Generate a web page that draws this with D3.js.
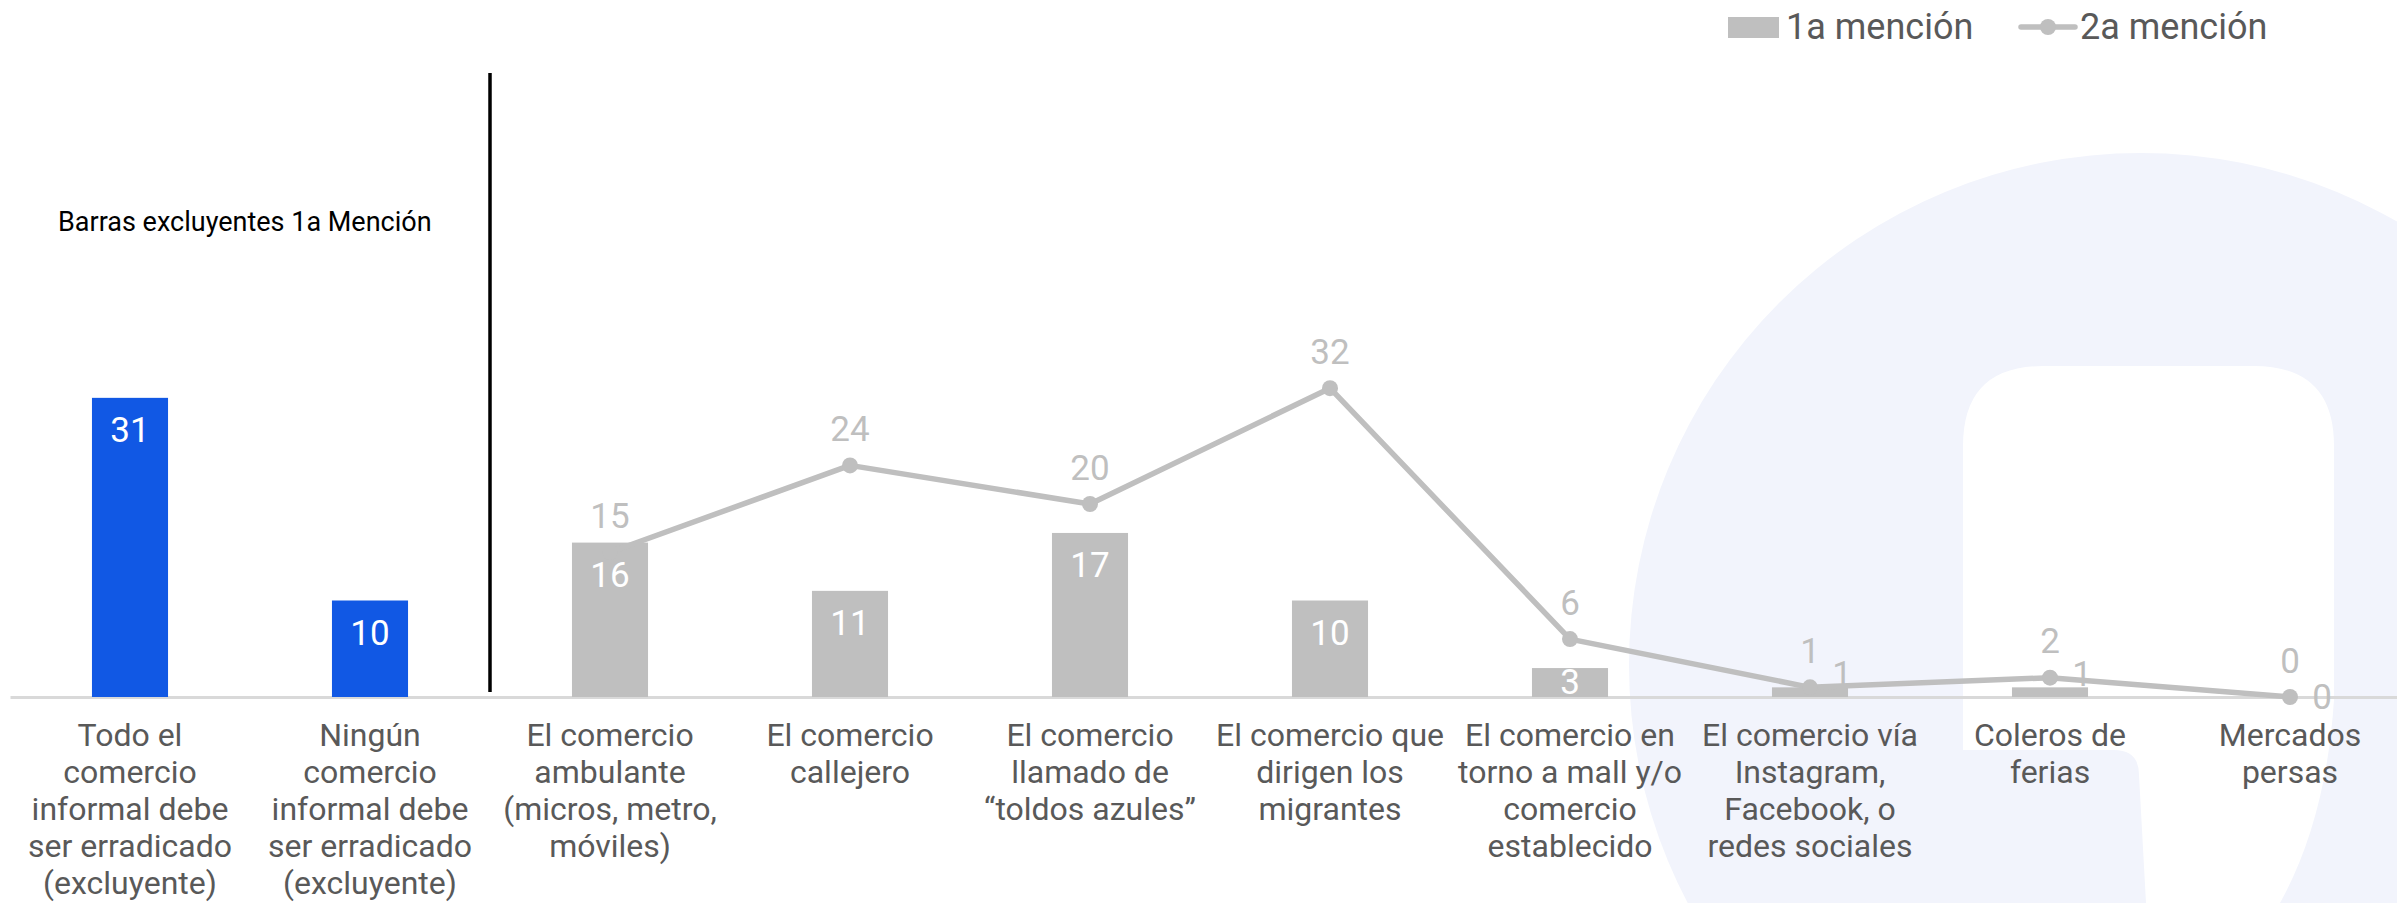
<!DOCTYPE html>
<html>
<head>
<meta charset="utf-8">
<script src="https://cdn.jsdelivr.net/npm/d3@7"></script>
<style>
  html, body { margin: 0; padding: 0; background: #fff; }
  svg { display: block; font-family: Roboto, "Noto Sans", sans-serif; }
</style>
</head>
<body>
<div id="chart"></div>
<script>
// categorias (saltos de linea como en el original)
var categories = [
  "Todo el\ncomercio\ninformal debe\nser erradicado\n(excluyente)",
  "Ningún\ncomercio\ninformal debe\nser erradicado\n(excluyente)",
  "El comercio\nambulante\n(micros, metro,\nmóviles)",
  "El comercio\ncallejero",
  "El comercio\nllamado de\n“toldos azules”",
  "El comercio que\ndirigen los\nmigrantes",
  "El comercio en\ntorno a mall y/o\ncomercio\nestablecido",
  "El comercio vía\nInstagram,\nFacebook, o\nredes sociales",
  "Coleros de\nferias",
  "Mercados\npersas"
];
// 1a mención (barras) ; las dos primeras son excluyentes
var mencion1 = [31, 10, 16, 11, 17, 10, 3, 1, 1, 0];
var excluyentes = [true, true, false, false, false, false, false, false, false, false];
// 2a mención (linea)
var mencion2 = [null, null, 15, 24, 20, 32, 6, 1, 2, 0];
var seriesNames = ["1a mención", "2a mención"];
var nota = "Barras excluyentes 1a Mención";

var W = 2397, H = 903;
var base = 697;
var gray = "#bfbfbf", blue = "#1158e4", txt = "#595959";

var svg = d3.select("#chart").append("svg").attr("width", W).attr("height", H);

// fondo: logo tenue
var bg = svg.append("g");
bg.append("circle").attr("cx", 2141).attr("cy", 665).attr("r", 512).attr("fill", "#f2f4fc");
bg.append("path")
  .attr("d", "M1963,446 Q1963,366 2043,366 L2254,366 Q2334,366 2334,446 L2334,700 Q2326,820 2280,903 L2146,903 L2139,775 Q2139,750 2114,750 L1963,750 Z")
  .attr("fill", "#fff");

var x = d3.scaleBand().domain(categories).range([10, 2410])
  .paddingInner(0.683).paddingOuter(0.3415);
var y = d3.scaleLinear().domain([0, 50]).range([base, base - 50 * 9.65]);
var cx = function(i) { return x(categories[i]) + x.bandwidth() / 2; };

// eje x
var axis = svg.append("g")
  .attr("transform", "translate(0," + base + ")")
  .call(d3.axisBottom(x).tickSize(0).tickSizeOuter(0).tickPadding(0));
axis.select(".domain").attr("stroke", "#d9d9d9").attr("stroke-width", 3);
axis.selectAll(".tick text").each(function(d) {
  var t = d3.select(this).text(null)
    .attr("fill", txt).attr("font-size", 32).attr("font-family", "Roboto")
    .attr("y", 0).attr("dy", null);
  d.split("\n").forEach(function(line, k) {
    t.append("tspan").attr("x", 0).attr("y", 38 + k * 37)
      .attr("dominant-baseline", "central").text(line);
  });
});

// barras
svg.append("g").selectAll("rect").data(mencion1).enter().append("rect")
  .attr("x", function(d, i) { return x(categories[i]); })
  .attr("y", function(d) { return y(d); })
  .attr("width", x.bandwidth())
  .attr("height", function(d) { return base - y(d); })
  .attr("fill", function(d, i) { return excluyentes[i] ? blue : gray; });

// linea 2a mención
var pts = mencion2.map(function(v, i) { return { i: i, v: v }; }).filter(function(p) { return p.v !== null; });
svg.append("path").datum(pts)
  .attr("fill", "none").attr("stroke", gray).attr("stroke-width", 5.5).attr("stroke-linejoin", "round")
  .attr("d", d3.line().x(function(p) { return cx(p.i); }).y(function(p) { return y(p.v); }));
svg.append("g").selectAll("circle").data(pts).enter().append("circle")
  .attr("cx", function(p) { return cx(p.i); })
  .attr("cy", function(p) { return y(p.v); })
  .attr("r", 8).attr("fill", gray);

// etiquetas barras
svg.append("g").selectAll("text").data(mencion1).enter().append("text")
  .attr("x", function(d, i) { return d <= 1 ? cx(i) + 32 : cx(i); })
  .attr("y", function(d) {
    if (d <= 1) return d === 0 ? y(0) : y(d) - 13;
    return Math.min(y(d) + 33, (y(d) + base) / 2);
  })
  .attr("text-anchor", "middle").attr("dominant-baseline", "central")
  .attr("font-size", 35)
  .attr("fill", function(d) { return d <= 1 ? gray : "#fff"; })
  .text(function(d) { return d; });

// etiquetas linea
svg.append("g").selectAll("text").data(pts).enter().append("text")
  .attr("x", function(p) { return cx(p.i); })
  .attr("y", function(p) { return y(p.v) - 36; })
  .attr("text-anchor", "middle").attr("dominant-baseline", "central")
  .attr("font-size", 35).attr("fill", gray)
  .text(function(p) { return p.v; });

// separador excluyentes
var sepX = x(categories[2]) - x.step() * x.paddingInner() / 2;
svg.append("line").attr("x1", sepX).attr("x2", sepX).attr("y1", 73).attr("y2", 692)
  .attr("stroke", "#000").attr("stroke-width", 3.5);
svg.append("text").attr("x", 58).attr("y", 222).attr("dominant-baseline", "central")
  .attr("font-size", 27).attr("fill", "#000").text(nota);

// leyenda
var lg = svg.append("g");
lg.append("rect").attr("x", 1728).attr("y", 17).attr("width", 51).attr("height", 21).attr("fill", gray);
lg.append("text").attr("x", 1786).attr("y", 27).attr("dominant-baseline", "central")
  .attr("font-size", 36).attr("fill", txt).text(seriesNames[0]);
lg.append("line").attr("x1", 2021).attr("x2", 2075).attr("y1", 27).attr("y2", 27)
  .attr("stroke", gray).attr("stroke-width", 5.5).attr("stroke-linecap", "round");
lg.append("circle").attr("cx", 2048).attr("cy", 27).attr("r", 8).attr("fill", gray);
lg.append("text").attr("x", 2080).attr("y", 27).attr("dominant-baseline", "central")
  .attr("font-size", 36).attr("fill", txt).text(seriesNames[1]);
</script>
</body>
</html>
